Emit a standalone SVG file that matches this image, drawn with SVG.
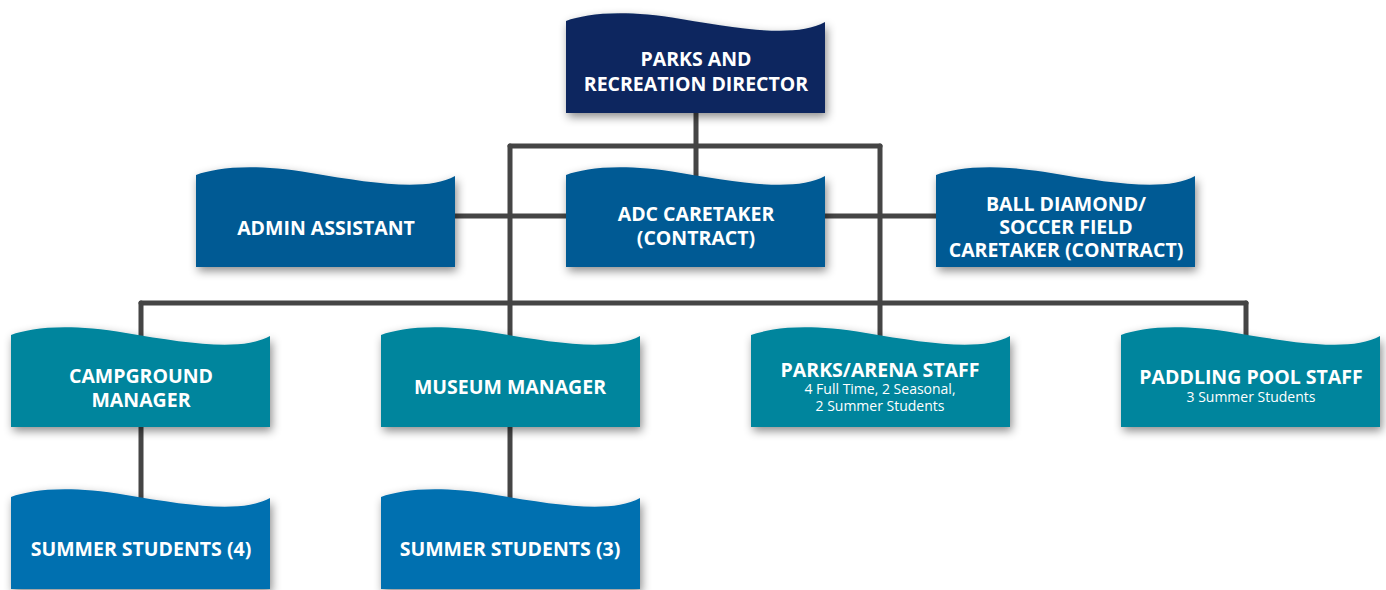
<svg xmlns="http://www.w3.org/2000/svg" xmlns:xlink="http://www.w3.org/1999/xlink" width="1386" height="590" viewBox="0 0 1386 590">
<defs>
<filter id="sh" x="-20%" y="-30%" width="140%" height="160%">
<feDropShadow dx="2" dy="4" stdDeviation="5" flood-color="#000" flood-opacity="0.45"/>
</filter>
<path id="wave" d="M0,9 C20,2 55,-3 115,7 S230,26 259,10 L259,101 L0,101 Z"/>
</defs>
<style>
.c{stroke:#454545;stroke-width:5;fill:none;stroke-linecap:round;stroke-linejoin:miter}
.n{filter:url(#sh)}
.d{fill:#0a275e}
.b{fill:#035a94}
.t{fill:#06859d}
.s{fill:#066fb0}
.tx{font-family:"Open Sans","Liberation Sans",sans-serif;font-weight:700;font-size:19.5px;fill:#fff;text-anchor:middle}
.sub{font-family:"Open Sans","Liberation Sans",sans-serif;font-weight:400;font-size:14px;fill:#fff;text-anchor:middle}
</style>
<rect width="1386" height="590" fill="#fff"/>
<g id="connectors">
<path class="c" d="M696,113 V180"/>
<path class="c" d="M510,146 H880"/>
<path class="c" d="M510,146 V340"/>
<path class="c" d="M880,146 V340"/>
<path class="c" d="M455,216 H566"/>
<path class="c" d="M824,216 H936"/>
<path class="c" d="M141,303 H1246"/>
<path class="c" d="M141,303 V340"/>
<path class="c" d="M1246,303 V340"/>
<path class="c" d="M141,425 V500"/>
<path class="c" d="M510,425 V500"/>
</g>
<g id="director"><use xlink:href="#wave" class="n d" transform="translate(566,12)"/>
<text class="tx" x="696" y="66">PARKS AND</text><text class="tx" x="696" y="91">RECREATION DIRECTOR</text></g>
<g id="admin"><use xlink:href="#wave" class="n b" transform="translate(196,166)"/>
<text class="tx" x="326" y="235">ADMIN ASSISTANT</text></g>
<g id="adc"><use xlink:href="#wave" class="n b" transform="translate(566,166)"/>
<text class="tx" x="696" y="221">ADC CARETAKER</text><text class="tx" x="696" y="245">(CONTRACT)</text></g>
<g id="ball"><use xlink:href="#wave" class="n b" transform="translate(936,166)"/>
<text class="tx" x="1066" y="211">BALL DIAMOND/</text><text class="tx" x="1066" y="234">SOCCER FIELD</text><text class="tx" x="1066" y="257">CARETAKER (CONTRACT)</text></g>
<g id="campground"><use xlink:href="#wave" class="n t" transform="translate(11,326)"/>
<text class="tx" x="141" y="383">CAMPGROUND</text><text class="tx" x="141" y="407">MANAGER</text></g>
<g id="museum"><use xlink:href="#wave" class="n t" transform="translate(381,326)"/>
<text class="tx" x="510" y="394">MUSEUM MANAGER</text></g>
<g id="parks"><use xlink:href="#wave" class="n t" transform="translate(751,326)"/>
<text class="tx" x="880" y="377">PARKS/ARENA STAFF</text><text class="sub" x="880" y="394">4 Full Time, 2 Seasonal,</text><text class="sub" x="880" y="411">2 Summer Students</text></g>
<g id="paddling"><use xlink:href="#wave" class="n t" transform="translate(1121,326)"/>
<text class="tx" x="1251" y="384">PADDLING POOL STAFF</text><text class="sub" x="1251" y="402">3 Summer Students</text></g>
<g id="summer4"><use xlink:href="#wave" class="n s" transform="translate(11,488)"/>
<text class="tx" x="141" y="556">SUMMER STUDENTS (4)</text></g>
<g id="summer3"><use xlink:href="#wave" class="n s" transform="translate(381,488)"/>
<text class="tx" x="510" y="556">SUMMER STUDENTS (3)</text></g>
</svg>
